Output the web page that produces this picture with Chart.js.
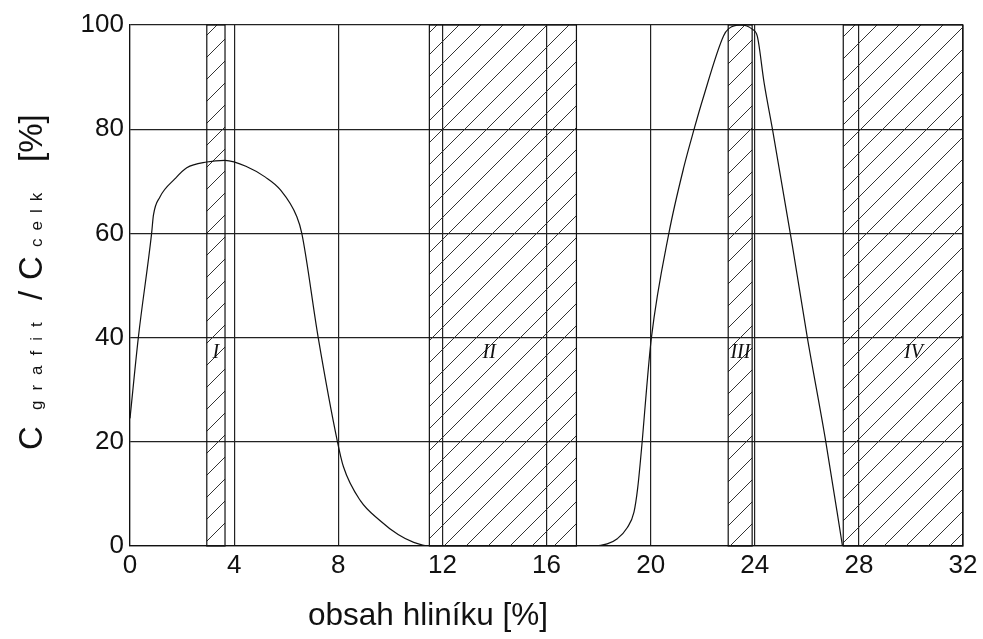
<!DOCTYPE html>
<html>
<head>
<meta charset="utf-8">
<script src="https://cdn.jsdelivr.net/npm/chart.js@4.4.1/dist/chart.umd.min.js"></script>
<style>
  html, body { margin: 0; padding: 0; background: #fff; }
</style>
</head>
<body>
<canvas id="grafitChart" width="983" height="639"></canvas>
<script>
// Graphite share of total carbon vs. aluminium content
const alContent = [0, 0.32, 0.83, 0.9, 1.15, 1.73, 2.18, 2.95, 3.65, 4.49, 5.2, 5.77, 6.41, 6.6, 7.23, 7.97, 8.2, 8.85, 9.6, 10.3, 10.9, 11.5,
  17.2, 17.82, 18.33, 18.72, 19.1, 19.36, 19.5, 19.68, 19.85, 20.03, 20.7, 21.28, 21.67, 22.0, 22.8, 23.0, 23.46, 23.9, 24.1, 24.36, 24.68, 25.45, 26.02, 26.73, 27.37];
const grafitShare = [24.5, 40, 60, 63.5, 67, 70.5, 72.6, 73.7, 74, 72.8, 70.8, 68.4, 63.2, 60, 40, 20, 15.2, 8.7, 4.9, 2.2, 0.7, 0,
  0, 0, 0.4, 1.4, 3.5, 6.5, 11, 20.3, 30.5, 40, 60, 72.8, 80, 85.7, 97.9, 99.3, 100, 99.2, 97.8, 88.9, 80, 57.5, 40, 20, 0];

const xTicks = [0, 4, 8, 12, 16, 20, 24, 28, 32];
const yTicks = [0, 20, 40, 60, 80, 100];

// structural regions I - IV
const bandFrom = [2.95, 11.5, 22.98, 27.4];
const bandTo = [3.65, 17.15, 23.9, 32];
const bandNames = ['I', 'II', 'III', 'IV'];
const bandLabelX = [3.3, 13.8, 23.45, 30.1];
const bandLabelY = 37;

const sans = '"Liberation Sans", Arial, sans-serif';

function hatchPattern(ctx) {
    const size = 22;
    const tile = document.createElement('canvas');
    tile.width = size;
    tile.height = size;
    const p = tile.getContext('2d');
    p.strokeStyle = '#333';
    p.lineWidth = 1;
    p.beginPath();
    p.moveTo(0, size); p.lineTo(size, 0);
    p.moveTo(-size / 2, size / 2); p.lineTo(size / 2, -size / 2);
    p.moveTo(size / 2, size * 1.5); p.lineTo(size * 1.5, size / 2);
    p.stroke();
    return ctx.createPattern(tile, 'repeat');
}

// hatched regions drawn under the curve
const bandsPlugin = {
    id: 'bands',
    beforeDatasetsDraw(chart) {
        const { ctx, chartArea: a, scales: { x, y } } = chart;
        ctx.save();
        const fill = hatchPattern(ctx);
        bandFrom.forEach((from, i) => {
            const x0 = x.getPixelForValue(from);
            const x1 = x.getPixelForValue(bandTo[i]);
            ctx.fillStyle = fill;
            ctx.fillRect(x0, a.top, x1 - x0, a.bottom - a.top);
            ctx.strokeStyle = '#111';
            ctx.lineWidth = 1.2;
            ctx.strokeRect(x0, a.top, x1 - x0, a.bottom - a.top);
        });
        ctx.font = 'italic 20px "Liberation Serif", serif';
        ctx.fillStyle = '#111';
        ctx.textAlign = 'center';
        ctx.textBaseline = 'middle';
        bandNames.forEach((name, i) => {
            ctx.fillText(name, x.getPixelForValue(bandLabelX[i]), y.getPixelForValue(bandLabelY));
        });
        ctx.restore();
    }
};

// axis titles (the y title mixes big letters and spaced subscripts)
const titlesPlugin = {
    id: 'titles',
    afterDraw(chart) {
        const { ctx } = chart;
        ctx.save();
        ctx.fillStyle = '#111';
        ctx.textBaseline = 'alphabetic';
        ctx.textAlign = 'center';
        ctx.font = '31.5px ' + sans;
        ctx.fillText('obsah hliníku [%]', 428, 625);

        ctx.translate(42, 450);
        ctx.rotate(-Math.PI / 2);
        ctx.textAlign = 'left';
        const parts = [
            { text: 'C', at: 0, size: 33, gap: '0px' },
            { text: 'grafit', at: 40, size: 17, gap: '10px' },
            { text: '/', at: 150, size: 33, gap: '0px' },
            { text: 'C', at: 170, size: 33, gap: '0px' },
            { text: 'celk', at: 203, size: 17, gap: '8px' },
            { text: '[%]', at: 288, size: 33, gap: '0px' }
        ];
        parts.forEach(part => {
            ctx.font = part.size + 'px ' + sans;
            ctx.letterSpacing = part.gap;
            ctx.fillText(part.text, part.at, 0);
        });
        ctx.restore();
    }
};

const ctxChart = document.getElementById('grafitChart');
new Chart(ctxChart, {
    type: 'line',
    data: {
        datasets: [{
            data: alContent.map((v, i) => ({ x: v, y: grafitShare[i] })),
            borderColor: '#111',
            borderWidth: 1.2,
            pointRadius: 0,
            cubicInterpolationMode: 'monotone',
            fill: false
        }]
    },
    plugins: [bandsPlugin, titlesPlugin],
    options: {
        responsive: false,
        animation: false,
        layout: {
            padding: { left: 0, top: 25, right: 20, bottom: 0 }
        },
        scales: {
            x: {
                type: 'linear',
                min: 0,
                max: 32,
                afterBuildTicks: scale => { scale.ticks = xTicks.map(v => ({ value: v })); },
                afterFit: scale => { scale.height = 93; },
                grid: { color: '#222', lineWidth: 1.2, drawTicks: false },
                border: { color: '#111', width: 1.2 },
                ticks: { color: '#111', padding: 4, font: { family: sans, size: 26 } }
            },
            y: {
                type: 'linear',
                min: 0,
                max: 100,
                afterBuildTicks: scale => { scale.ticks = yTicks.map(v => ({ value: v })); },
                afterFit: scale => { scale.width = 130; },
                grid: { color: '#222', lineWidth: 1.2, drawTicks: false },
                border: { color: '#111', width: 1.2 },
                ticks: { color: '#111', padding: 6, font: { family: sans, size: 26 } }
            }
        },
        plugins: {
            legend: { display: false },
            tooltip: { enabled: false }
        }
    }
});
</script>
</body>
</html>
